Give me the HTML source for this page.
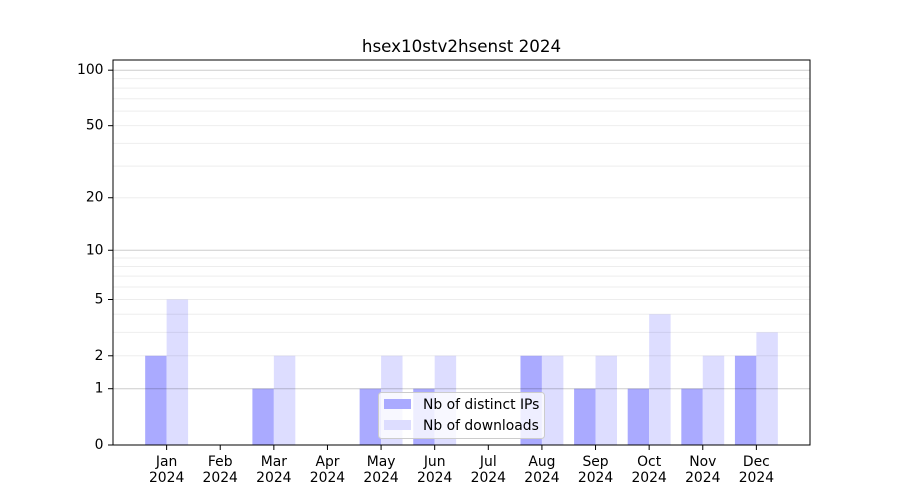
<!DOCTYPE html>
<html><head><meta charset="utf-8"><style>
html,body{margin:0;padding:0;background:#fff;}
svg{display:block;}
text{font-family:"DejaVu Sans","Liberation Sans",sans-serif;fill:#000;}
</style></head><body>
<svg width="900" height="500" viewBox="0 0 900 500" xmlns="http://www.w3.org/2000/svg">
<rect width="900" height="500" fill="#fff"/>
<!-- bars -->
<g>
<rect x="145.17" y="355.78" width="21.45" height="89.22" fill="#aaaaff"/>
<rect x="166.62" y="299.49" width="21.45" height="145.51" fill="#ddddff"/>
<rect x="252.40" y="388.71" width="21.45" height="56.29" fill="#aaaaff"/>
<rect x="273.85" y="355.78" width="21.45" height="89.22" fill="#ddddff"/>
<rect x="359.63" y="388.71" width="21.45" height="56.29" fill="#aaaaff"/>
<rect x="381.08" y="355.78" width="21.45" height="89.22" fill="#ddddff"/>
<rect x="413.24" y="388.71" width="21.45" height="56.29" fill="#aaaaff"/>
<rect x="434.69" y="355.78" width="21.45" height="89.22" fill="#ddddff"/>
<rect x="520.47" y="355.78" width="21.45" height="89.22" fill="#aaaaff"/>
<rect x="541.92" y="355.78" width="21.45" height="89.22" fill="#ddddff"/>
<rect x="574.09" y="388.71" width="21.45" height="56.29" fill="#aaaaff"/>
<rect x="595.54" y="355.78" width="21.45" height="89.22" fill="#ddddff"/>
<rect x="627.70" y="388.71" width="21.45" height="56.29" fill="#aaaaff"/>
<rect x="649.15" y="314.29" width="21.45" height="130.71" fill="#ddddff"/>
<rect x="681.32" y="388.71" width="21.45" height="56.29" fill="#aaaaff"/>
<rect x="702.77" y="355.78" width="21.45" height="89.22" fill="#ddddff"/>
<rect x="734.93" y="355.78" width="21.45" height="89.22" fill="#aaaaff"/>
<rect x="756.38" y="332.41" width="21.45" height="112.59" fill="#ddddff"/>
</g>
<!-- minor grid -->
<g stroke="#000" stroke-opacity="0.07" stroke-width="1">
<line x1="113" x2="810" y1="355.78" y2="355.78"/>
<line x1="113" x2="810" y1="332.41" y2="332.41"/>
<line x1="113" x2="810" y1="314.29" y2="314.29"/>
<line x1="113" x2="810" y1="299.49" y2="299.49"/>
<line x1="113" x2="810" y1="286.97" y2="286.97"/>
<line x1="113" x2="810" y1="276.12" y2="276.12"/>
<line x1="113" x2="810" y1="266.56" y2="266.56"/>
<line x1="113" x2="810" y1="258.00" y2="258.00"/>
<line x1="113" x2="810" y1="197.74" y2="197.74"/>
<line x1="113" x2="810" y1="166.12" y2="166.12"/>
<line x1="113" x2="810" y1="143.41" y2="143.41"/>
<line x1="113" x2="810" y1="125.68" y2="125.68"/>
<line x1="113" x2="810" y1="111.14" y2="111.14"/>
<line x1="113" x2="810" y1="98.81" y2="98.81"/>
<line x1="113" x2="810" y1="88.11" y2="88.11"/>
<line x1="113" x2="810" y1="78.66" y2="78.66"/>
</g>
<!-- major grid -->
<g stroke="#000" stroke-opacity="0.2" stroke-width="1">
<line x1="113" x2="810" y1="388.71" y2="388.71"/>
<line x1="113" x2="810" y1="250.26" y2="250.26"/>
<line x1="113" x2="810" y1="70.19" y2="70.19"/>
</g>
<!-- axes frame -->
<rect x="113" y="60" width="697" height="385" fill="none" stroke="#000" stroke-width="1"/>
<!-- y ticks -->
<g stroke="#000" stroke-width="1">
<line x1="108" x2="113" y1="445" y2="445"/>
<line x1="108" x2="113" y1="388.71" y2="388.71"/>
<line x1="108" x2="113" y1="355.78" y2="355.78"/>
<line x1="108" x2="113" y1="299.49" y2="299.49"/>
<line x1="108" x2="113" y1="250.26" y2="250.26"/>
<line x1="108" x2="113" y1="197.74" y2="197.74"/>
<line x1="108" x2="113" y1="125.68" y2="125.68"/>
<line x1="108" x2="113" y1="70.19" y2="70.19"/>
</g>
<g font-size="13.9" text-anchor="end" dominant-baseline="central">
<text x="103.5" y="445">0</text>
<text x="103.5" y="388.71">1</text>
<text x="103.5" y="355.78">2</text>
<text x="103.5" y="299.49">5</text>
<text x="103.5" y="250.26">10</text>
<text x="103.5" y="197.74">20</text>
<text x="103.5" y="125.68">50</text>
<text x="103.5" y="70.19">100</text>
</g>
<!-- x ticks -->
<g stroke="#000" stroke-width="1">
<line y1="445" y2="450" x1="166.62" x2="166.62"/>
<line y1="445" y2="450" x1="220.23" x2="220.23"/>
<line y1="445" y2="450" x1="273.85" x2="273.85"/>
<line y1="445" y2="450" x1="327.46" x2="327.46"/>
<line y1="445" y2="450" x1="381.08" x2="381.08"/>
<line y1="445" y2="450" x1="434.69" x2="434.69"/>
<line y1="445" y2="450" x1="488.31" x2="488.31"/>
<line y1="445" y2="450" x1="541.92" x2="541.92"/>
<line y1="445" y2="450" x1="595.54" x2="595.54"/>
<line y1="445" y2="450" x1="649.15" x2="649.15"/>
<line y1="445" y2="450" x1="702.77" x2="702.77"/>
<line y1="445" y2="450" x1="756.38" x2="756.38"/>
</g>
<g font-size="13.9" text-anchor="middle">
<text x="166.62" y="466">Jan</text><text x="166.62" y="482">2024</text>
<text x="220.23" y="466">Feb</text><text x="220.23" y="482">2024</text>
<text x="273.85" y="466">Mar</text><text x="273.85" y="482">2024</text>
<text x="327.46" y="466">Apr</text><text x="327.46" y="482">2024</text>
<text x="381.08" y="466">May</text><text x="381.08" y="482">2024</text>
<text x="434.69" y="466">Jun</text><text x="434.69" y="482">2024</text>
<text x="488.31" y="466">Jul</text><text x="488.31" y="482">2024</text>
<text x="541.92" y="466">Aug</text><text x="541.92" y="482">2024</text>
<text x="595.54" y="466">Sep</text><text x="595.54" y="482">2024</text>
<text x="649.15" y="466">Oct</text><text x="649.15" y="482">2024</text>
<text x="702.77" y="466">Nov</text><text x="702.77" y="482">2024</text>
<text x="756.38" y="466">Dec</text><text x="756.38" y="482">2024</text>
</g>
<!-- title -->
<text x="461.5" y="52" font-size="16.7" text-anchor="middle">hsex10stv2hsenst 2024</text>
<!-- legend -->
<rect x="378.5" y="392.5" width="166" height="46" rx="3" ry="3" fill="#fff" fill-opacity="0.8" stroke="#cccccc" stroke-width="1"/>
<rect x="384" y="399" width="27" height="10" fill="#aaaaff"/>
<rect x="384" y="420" width="27" height="10" fill="#ddddff"/>
<g font-size="13.9">
<text x="423" y="409">Nb of distinct IPs</text>
<text x="423" y="430">Nb of downloads</text>
</g>
</svg>
</body></html>
